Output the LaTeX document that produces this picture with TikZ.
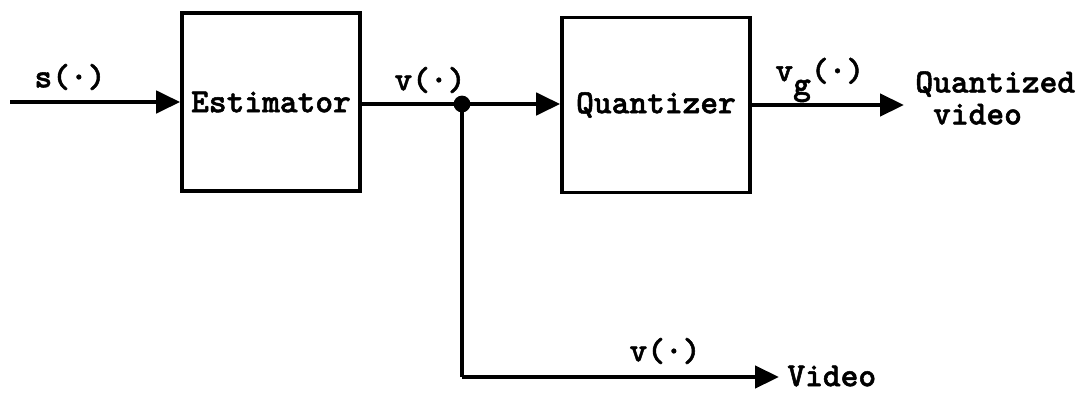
\documentclass[tikz,border=0pt]{standalone}
\usepackage{fontspec}
\newfontfamily\twb[FakeBold=1.5]{lmmonolt10-bold.otf}
\usetikzlibrary{arrows.meta}
\begin{document}
\begin{tikzpicture}[x=0.5pt,y=-0.5pt,
  lbl/.style={font=\fontsize{16.9}{16}\selectfont\twb, inner sep=0pt},
  blk/.style={draw, line width=1.8pt, minimum width=89pt, inner sep=0pt, font=\fontsize{16.9}{16}\selectfont\twb},
  wire/.style={line width=2.2pt},
  arr/.style={wire, -{Triangle[length=12pt,width=11pt]}}]
\useasboundingbox (0,0) rectangle (1090,392);
\fill[white] (0,0) rectangle (1090,392);
\node[blk, minimum height=89pt] (est) at (271,102) {Estimator};
\node[blk, minimum height=87.5pt, minimum width=94pt] (quant) at (656,105) {Quantizer};
\coordinate (in) at (10,102);
\coordinate (j) at (462,104);
\coordinate (out) at (904,105);
\coordinate (jb) at (462,377);
\coordinate (vid) at (779,377);
\draw[arr] (in) -- (est.west);
\draw[wire] (est.east |- j) -- (j);
\draw[arr] (j) -- (quant.west |- j);
\draw[arr] (quant.east) -- (out);
\draw[wire] (j) -- (jb);
\draw[arr] (jb) -- (vid);
\fill (j) circle (4.2pt);
\node[lbl] (ls) at (70,77) {s(·)};
\node[lbl] (lv) at (430,80) {v(·)};
\node[lbl, anchor=west] (lvg) at (775,80) {v\raisebox{-0.4em}{g}(·)};
\node[lbl, anchor=west, align=left] (lq) at (915,98) {Quantized\\\hphantom{x}video};
\node[lbl] (lvb) at (665,351) {v(·)};
\node[lbl, anchor=west] (lvid) at (787,376) {Video};
\end{tikzpicture}
\end{document}
